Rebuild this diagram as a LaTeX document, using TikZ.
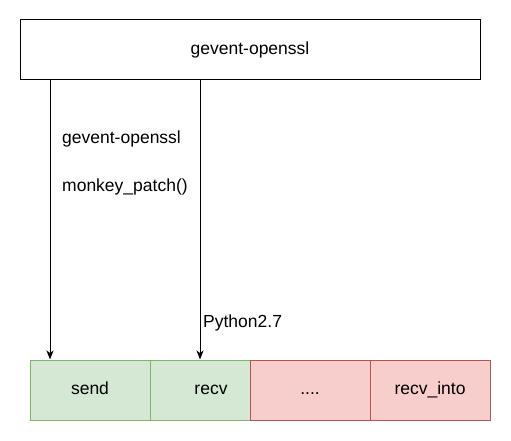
\documentclass[tikz,border=0pt]{standalone}
\usepackage{fontspec}
\setmainfont{Liberation Sans}
\usetikzlibrary{arrows.meta}
\definecolor{gfill}{HTML}{D5E8D4}
\definecolor{gline}{HTML}{82B366}
\definecolor{rfill}{HTML}{F8CECC}
\definecolor{rline}{HTML}{B85450}
\begin{document}
\begin{tikzpicture}[x=1pt,y=-1pt,
  every node/.style={font=\fontsize{17.5}{20}\selectfont, inner sep=0pt},
  topbox/.style={draw=black, line width=1pt, fill=white, minimum width=460pt, minimum height=60pt, text height=12.5pt, text depth=3.5pt},
  gbox/.style={draw=gline, line width=1pt, fill=gfill, minimum height=60pt, text height=12.5pt, text depth=3.5pt},
  rbox/.style={draw=rline, line width=1pt, fill=rfill, minimum height=60pt, text height=12.5pt, text depth=3.5pt},
  lbl/.style={anchor=west},
  conn/.style={draw=black, line width=1pt, -{Stealth[length=9pt,width=7pt,inset=2.5pt]}}]
\useasboundingbox (0,0) rectangle (511,441);
\node[topbox] (top) at (250,50) {gevent-openssl};
\node[gbox, minimum width=120pt] (send) at (90,390) {send};
\node[gbox, minimum width=100pt] (recv) at (200,390) {\hspace{22pt}recv};
\node[rbox, minimum width=120pt] (dots) at (310,390) {....};
\node[rbox, minimum width=120pt] (recvinto) at (430,390) {recv\_into};
\coordinate (p1) at (50,0);
\coordinate (p2) at (200,0);
\draw[conn] (top.south -| p1) -- (send.north -| p1);
\draw[conn] (top.south -| p2) -- (recv.north -| p2);
\node[lbl] (l1) at (62,139) {gevent-openssl};
\node[lbl] (l2) at (62,187) {monkey\_patch()};
\node[lbl] (l3) at (203,323) {Python2.7};
\end{tikzpicture}
\end{document}
